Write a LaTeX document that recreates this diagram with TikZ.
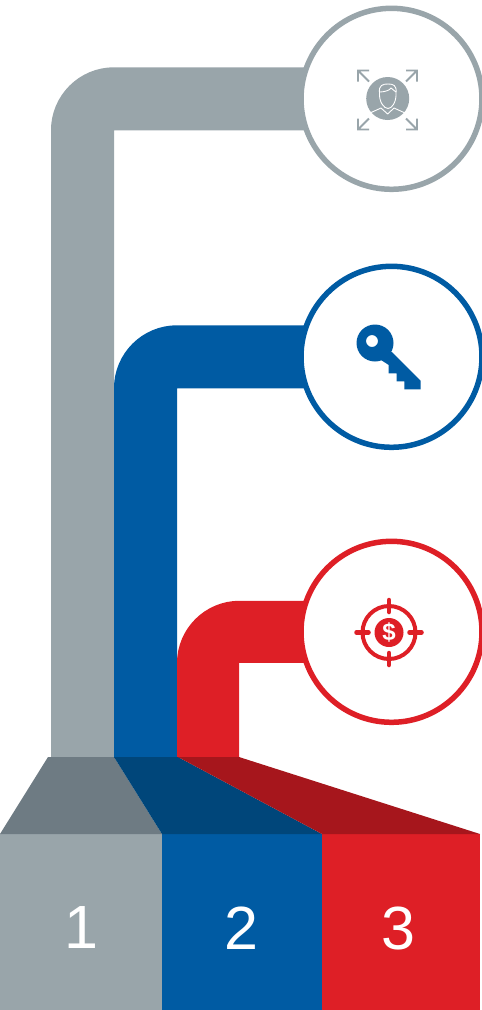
\documentclass[tikz,border=0pt]{standalone}
\usepackage{fontspec}
\setmainfont{Liberation Sans}
\usetikzlibrary{backgrounds}
\definecolor{pipegrey}{HTML}{99A5AA}
\definecolor{pipeblue}{HTML}{005BA3}
\definecolor{pipered}{HTML}{DE1F26}
\definecolor{shadegrey}{HTML}{6E7B83}
\definecolor{shadeblue}{HTML}{00467A}
\definecolor{shadered}{HTML}{A6161C}
\tikzset{
    pipe/.style={line width=63pt, rounded corners=31.5pt},
    ringnode/.style={circle, draw=#1, fill=white, line width=5.5pt, minimum size=181pt, inner sep=0pt},
    basebox/.style={fill=#1, minimum height=176pt, inner sep=0pt, outer sep=0pt},
    numlabel/.style={text=white, font=\fontsize{61}{61}\selectfont, inner sep=0pt}
}
\begin{document}
\begin{tikzpicture}[x=1pt, y=-1pt]
    \useasboundingbox (0,0) rectangle (482,1010);
    % Base blocks with their numbers
    \node[basebox=pipegrey, minimum width=162pt] (block1) at (81,922) {};
    \node[basebox=pipeblue, minimum width=160pt] (block2) at (242,922) {};
    \node[basebox=pipered, minimum width=158pt] (block3) at (401,922) {};
    \node[numlabel] (num1) at (81,928) {1};
    \node[numlabel] (num2) at (241,928) {2};
    \node[numlabel] (num3) at (398,928) {3};
    % Slanted faces above the blocks
    \fill[shadegrey] (block1.north west) -- (block1.north east) -- (114,757) -- (48,757) -- cycle;
    \fill[shadeblue] (block2.north west) -- (block2.north east) -- (178,757) -- (114,757) -- cycle;
    \fill[shadered] (block3.north west) -- (block3.north east) -- (239,757) -- (178,757) -- cycle;
    % Rings at the end of the pipes
    \node[ringnode=pipegrey] (ring1) at (391.5,98.8) {};
    \node[ringnode=pipeblue] (ring2) at (391.5,356.8) {};
    \node[ringnode=pipered] (ring3) at (391.5,631.8) {};
    \coordinate (foot1) at (82.5,758);
    \coordinate (foot2) at (145.5,758);
    \coordinate (foot3) at (208,758);
    % Pipes run behind the rings
    \begin{scope}[on background layer]
        \draw[pipe, pipegrey] (foot1) |- (ring1.center);
        \draw[pipe, pipeblue] (foot2) |- (ring2.center);
        \draw[pipe, pipered, line width=62pt] (foot3) |- (ring3.center);
    \end{scope}
    % Person icon
    \fill[pipegrey] (387.7,98.5) circle (21.5);
    \draw[white, line width=0.9pt, line join=round] (379.5,93) .. controls (378.5,85) and (383,84) .. (388,84) .. controls (393,84) and (397,85) .. (396,93) .. controls (396.5,102) and (392,108.5) .. (388,108.5) .. controls (384,108.5) and (379,102) .. (379.5,93) -- cycle;
    \draw[white, line width=0.9pt] (380,92) .. controls (385,92) and (390,90) .. (391,88) .. controls (393,90) and (395,91) .. (396,92);
    \draw[white, line width=0.9pt, line join=round] (370,113) -- (381,108) -- (387.7,114) -- (394,108) -- (405,113);
    \foreach \sx/\sy in {-1/-1, 1/-1, -1/1, 1/1} {
        \draw[pipegrey, line width=1.8pt] (387.5+29.5*\sx,100+29.5*\sy) ++(-11*\sx,-11*\sy) -- ++(11*\sx,11*\sy) ++(-11*\sx,0) -- ++(11*\sx,0) -- ++(0,-11*\sy);
    }
    % Key icon
    \fill[pipeblue, even odd rule] (375,343) circle (18.5) (372,341) circle (6);
    \fill[pipeblue] (391.7,351.7) -- (420.7,380.7) -- (420.7,389.3) -- (404.3,389.3) -- (404.3,381.3) -- (396.7,381.3) -- (396.7,373.3) -- (388.7,373.3) -- (388.7,365) -- (378,358) -- cycle;
    % Target icon
    \draw[pipered, line width=4pt] (389,632.5) circle (26.5);
    \fill[pipered] (389,632.5) circle (14.5);
    \foreach \ang in {0,90,180,270} {
        \draw[pipered, line width=4.5pt, line cap=round] (389,632.5) ++(\ang:20.5) -- ++(\ang:12);
    }
    \node[text=white, font=\fontsize{24}{24}\selectfont\bfseries, inner sep=0pt] (dollar) at (389,632.5) {\$};
\end{tikzpicture}
\end{document}
